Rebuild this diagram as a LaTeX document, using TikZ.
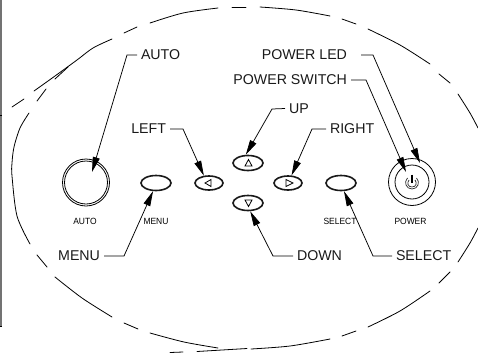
\documentclass[tikz,border=0pt]{standalone}
\usepackage{fontspec}
\setmainfont{Liberation Sans}
\usetikzlibrary{shapes.geometric,arrows.meta}
\tikzset{
  x=1pt,y=-1pt,
  callout/.style={font=\fontsize{14.2}{16}\selectfont,inner sep=0pt,outer sep=4pt,text=black!90},
  tiny label/.style={font=\fontsize{9}{10}\selectfont,inner sep=0pt,text=black},
  leader/.style={line width=0.75pt,-{Triangle[length=15pt,width=7pt]}},
  oval/.style={draw,ellipse,line width=1.6pt,minimum width=30pt,minimum height=15pt,inner sep=0pt,black!90},
  ring/.style={draw,circle,line width=0.8pt,inner sep=0pt},
  edge line/.style={line width=0.8pt,line cap=round},
  glyph/.style={line width=0.8pt,line join=miter}
}
\begin{document}
\begin{tikzpicture}
\useasboundingbox (0,0) rectangle (478,353);
% left frame edge
\fill[black!55] (0,0) rectangle (2,326);
\draw[line width=0.7pt] (0,115) -- (2,115);
\draw[line width=0.7pt] (0,326) -- (2,326);
% dashed outline, upper part
\begin{scope}[edge line]
\clip (0,0) rectangle (478,353);
\draw (12,107) -- (24,99);
\draw (37,101) -- (46,89);
\draw (55,79) -- (68,67);
\draw plot[smooth] coordinates {(34,91) (55,76) (77,60) (93,48) (112,39)};
\draw (124,33) -- (137,27);
\draw plot[smooth] coordinates {(150,23) (183,13) (218,8)};
\draw (232,7) -- (246,7);
\draw plot[smooth] coordinates {(260,7) (296,10) (330,16)};
\draw (342,19) -- (356,24);
\draw plot[smooth] coordinates {(368,29) (400,45) (430,64)};
\draw (439,74) -- (450,83);
\draw plot[smooth] coordinates {(458,94) (470,113) (478,128)};
% left side
\draw plot[smooth] coordinates {(29,113) (20,128) (14,147) (12,163) (12,176) (17,216) (30,244)};
\draw (37,255) -- (47,267);
% lower part
\draw plot[smooth] coordinates {(55,277) (82,298) (112,317)};
\draw (124,323) -- (138,329);
\draw plot[smooth] coordinates {(150,333) (184,342) (218,348)};
\draw (170,352.5) -- (183,352);
\draw (197,351.5) -- (247,348.5);
\draw plot[smooth] coordinates {(251,349) (290,346) (330,339)};
\draw (342,336) -- (356,331);
\draw plot[smooth] coordinates {(368,327) (400,311) (430,291)};
\draw (439,283) -- (450,272);
\draw plot[smooth] coordinates {(458,262) (470,243) (478,228)};
\end{scope}
% controls
\node[ring,minimum size=47pt] (autoouter) at (86,182.5) {};
\node[ring,minimum size=43pt] (autoinner) at (86,182.5) {};
\node[oval] (menu) at (156,183) {};
\node[oval,minimum width=28pt,minimum height=14pt] (left) at (209,183) {};
\node[oval] (up) at (248,163) {};
\node[oval] (down) at (248,203) {};
\node[oval,minimum width=28pt,minimum height=14pt] (right) at (288,183) {};
\node[oval] (select) at (341,183) {};
\node[ring,minimum size=47pt] (powerouter) at (412,182) {};
\node[ring,minimum size=34pt] (powerinner) at (412,182) {};
% button glyphs
\draw[glyph] (205,183) -- (211,179.5) -- (211,186.5) -- cycle;
\draw[glyph] (248.5,159.5) -- (252,166) -- (245,166) -- cycle;
\draw[glyph] (248.5,206.5) -- (252,200) -- (245,200) -- cycle;
\draw[glyph] (293,183) -- (286,179.5) -- (286,186.5) -- cycle;
% power symbol
\draw[line width=0.7pt,black!85] (407.5,178) .. controls (403.5,182) and (406,189) .. (412,189) .. controls (418,189) and (420.5,182) .. (416.5,178);
\draw[line width=0.7pt,black!85] (409,180) .. controls (406.5,183) and (408,187) .. (412,187) .. controls (416,187) and (417.5,183) .. (415,180);
\draw[line width=1.4pt] (412,174.5) -- (412,182.5);
% small captions
\node[tiny label,xscale=0.94] (autocap) at (85,221) {AUTO};
\node[tiny label,xscale=0.94] (menucap) at (156,221) {MENU};
\node[tiny label,xscale=0.94] (selectcap) at (340,221) {SELECT};
\node[tiny label,xscale=0.94] (powercap) at (410.5,221) {POWER};
% callout labels
\node[callout,anchor=west] (lauto) at (137,55) {AUTO};
\node[callout,anchor=east] (lleft) at (170,129) {LEFT};
\node[callout,anchor=east] (lled) at (351,55) {POWER LED};
\node[callout,anchor=east] (lswitch) at (351,80) {POWER SWITCH};
\node[callout,anchor=west] (lup) at (285,108.5) {UP};
\node[callout,anchor=west] (lright) at (326,129) {RIGHT};
\node[callout,anchor=east] (lmenu) at (104,256) {MENU};
\node[callout,anchor=west] (ldown) at (293,256) {DOWN};
\node[callout,anchor=west] (lselect) at (392,256) {SELECT};
% elbows and inner ends
\coordinate (eauto) at (127,55);
\coordinate (eleft) at (183,129);
\coordinate (eled) at (373,55);
\coordinate (eswitch) at (366,80);
\coordinate (eup) at (272,109);
\coordinate (eright) at (312,129);
\coordinate (emenu) at (124,256);
\coordinate (edown) at (273,256);
\coordinate (eselect) at (373,256);
\coordinate (tauto) at (92,172);
\coordinate (tled) at (420,163);
\coordinate (tswitch) at (406,172);
% leaders
\draw[leader] (lauto.west) -- (eauto) -- (tauto);
\draw[leader] (lleft.east) -- (eleft) -- (left.125);
\draw[leader] ([xshift=10pt]lled.east) -- (eled) -- (tled);
\draw[leader] (lswitch.east) -- (eswitch) -- (tswitch);
\draw[leader] (lup.west) -- (eup) -- (up.105);
\draw[leader] (lright.west) -- (eright) -- (right.65);
\draw[leader] (lmenu.east) -- (emenu) -- (menu.250);
\draw[leader] (ldown.west) -- (edown) -- (down.285);
\draw[leader] (lselect.west) -- (eselect) -- (select.290);
\end{tikzpicture}
\end{document}
